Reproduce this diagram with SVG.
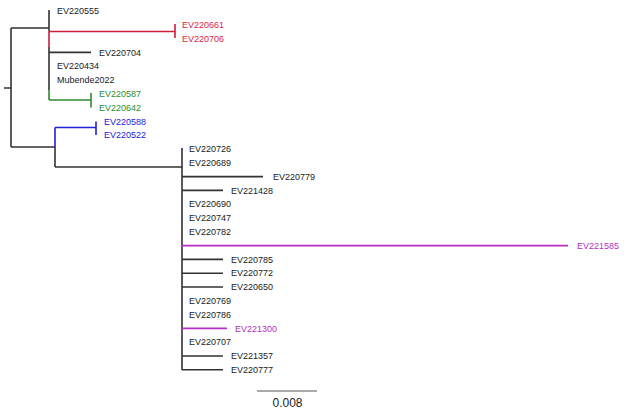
<svg xmlns="http://www.w3.org/2000/svg" width="640" height="414" viewBox="0 0 640 414">
<style>
text{font-family:"Liberation Sans",Arial,Helvetica,sans-serif;font-size:9px;fill:#1a1a1a}
.e{stroke:#333;stroke-width:1.6;fill:none;stroke-linecap:butt}
.r{stroke:#cc1f3a}.g{stroke:#2e8b2e}.b{stroke:#2020dd}.m{stroke:#b52fc0}
text.r{fill:#e0234a;stroke:none}text.g{fill:#2e8b2e;stroke:none}text.b{fill:#2020dd;stroke:none}text.m{fill:#b52fc0;stroke:none}
.s{stroke:#555;stroke-width:1;fill:none}
.sl{font-size:12px;text-anchor:middle}
</style>
<rect width="640" height="414" fill="#fff"/>
<g id="edges">
<path class="e" d="M4 88H11M11 28V147M11 28H49M11 147H55"/>
<path class="e" d="M49 10V31.5M49 47V90"/>
<path class="e r" d="M49 31.5V47M49 31.5H175M175 24V38"/>
<path class="e" d="M49 52.4H91"/>
<path class="e g" d="M49 90V100M49 100H91M91 93V107.6"/>
<path class="e b" d="M55 127.5V147M55 127.5H96M96 121.4V135"/>
<path class="e" d="M55 147V167M55 167H182M182 148V370"/>
<path class="e" d="M182 176.6H263M182 190.4H223M182 259.4H223M182 273.2H223M182 287H223M182 356H223M182 369.8H223"/>
<path class="e m" d="M182 245.6H568M182 328.4H227"/>
</g>
<g id="leaf-EV220555"><text x="57" y="14.2">EV220555</text></g>
<g id="leaf-EV220661"><text class="r" x="182" y="28">EV220661</text></g>
<g id="leaf-EV220706"><text class="r" x="182" y="41.8">EV220706</text></g>
<g id="leaf-EV220704"><text x="99" y="55.6">EV220704</text></g>
<g id="leaf-EV220434"><text x="57" y="69.4">EV220434</text></g>
<g id="leaf-Mubende2022"><text x="57" y="83.2">Mubende2022</text></g>
<g id="leaf-EV220587"><text class="g" x="99" y="97">EV220587</text></g>
<g id="leaf-EV220642"><text class="g" x="99" y="110.8">EV220642</text></g>
<g id="leaf-EV220588"><text class="b" x="104" y="124.6">EV220588</text></g>
<g id="leaf-EV220522"><text class="b" x="104" y="138.4">EV220522</text></g>
<g id="leaf-EV220726"><text x="189" y="152.2">EV220726</text></g>
<g id="leaf-EV220689"><text x="189" y="166">EV220689</text></g>
<g id="leaf-EV220779"><text x="273" y="179.8">EV220779</text></g>
<g id="leaf-EV221428"><text x="231" y="193.6">EV221428</text></g>
<g id="leaf-EV220690"><text x="189" y="207.4">EV220690</text></g>
<g id="leaf-EV220747"><text x="189" y="221.2">EV220747</text></g>
<g id="leaf-EV220782"><text x="189" y="235">EV220782</text></g>
<g id="leaf-EV221585"><text class="m" x="577" y="248.8">EV221585</text></g>
<g id="leaf-EV220785"><text x="231" y="262.6">EV220785</text></g>
<g id="leaf-EV220772"><text x="231" y="276.4">EV220772</text></g>
<g id="leaf-EV220650"><text x="231" y="290.2">EV220650</text></g>
<g id="leaf-EV220769"><text x="189" y="304">EV220769</text></g>
<g id="leaf-EV220786"><text x="189" y="317.8">EV220786</text></g>
<g id="leaf-EV221300"><text class="m" x="235" y="331.6">EV221300</text></g>
<g id="leaf-EV220707"><text x="189" y="345.4">EV220707</text></g>
<g id="leaf-EV221357"><text x="231" y="359.2">EV221357</text></g>
<g id="leaf-EV220777"><text x="231" y="373">EV220777</text></g>
<g id="scale">
<path class="s" d="M257 391H317"/>
<text class="sl" x="287.5" y="407">0.008</text>
</g>
</svg>
